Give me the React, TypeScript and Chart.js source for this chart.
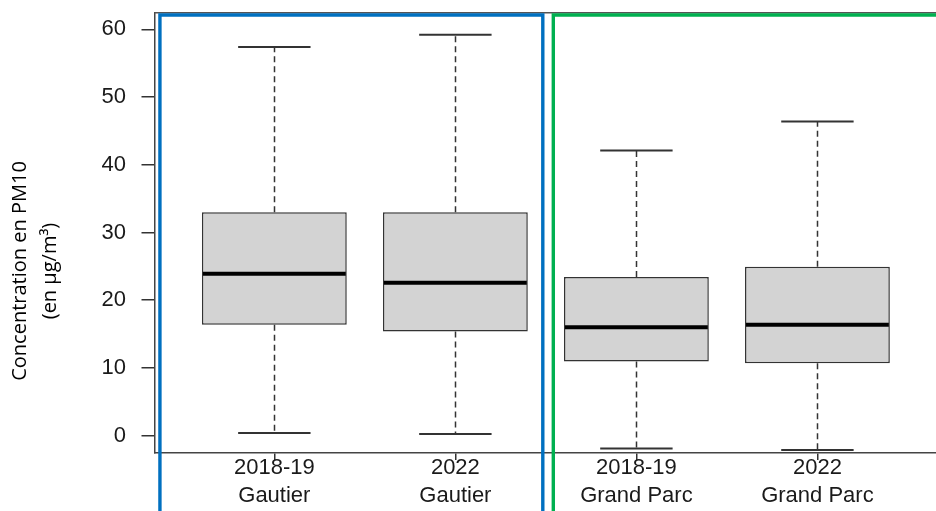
import React, { useEffect, useRef } from "react";
import { Chart, registerables } from "chart.js";

Chart.register(...registerables);

// ---- Data ----
const periods = ["2018-19", "2022", "2018-19", "2022"];
const sites = ["Gautier", "Gautier", "Grand Parc", "Grand Parc"];
const whiskerLow = [0.4, 0.25, -1.9, -2.1];
const q1 = [16.4, 15.4, 10.95, 10.7];
const median = [23.9, 22.6, 16.0, 16.4];
const q3 = [33.0, 33.0, 23.45, 24.95];
const whiskerHigh = [57.4, 59.2, 42.1, 46.4];
const yTicks = [0, 10, 20, 30, 40, 50, 60];
const yTitle = ["Concentration en PM10", "(en µg/m³)"];

// group frames (x in category units)
const groupFrames = [
  { from: 0.368, to: 2.483, color: "#0070C0" },
  { from: 2.541, to: 4.9, color: "#00B050" },
];

const tickFont = { family: "'Liberation Sans', Arial, sans-serif", size: 22 };

const extrasPlugin = {
  id: "boxExtras",
  beforeDatasetsDraw(chart: any) {
    const { ctx, scales } = chart;
    const x = scales.x;
    const y = scales.y;
    ctx.save();
    ctx.strokeStyle = "#333";
    ctx.lineWidth = 1.5;
    ctx.setLineDash([6, 4]);
    for (let i = 0; i < periods.length; i++) {
      const px = Math.round(x.getPixelForValue(i + 1)) + 0.5;
      ctx.beginPath();
      ctx.moveTo(px, y.getPixelForValue(q3[i]));
      ctx.lineTo(px, y.getPixelForValue(whiskerHigh[i]));
      ctx.moveTo(px, y.getPixelForValue(q1[i]));
      ctx.lineTo(px, y.getPixelForValue(whiskerLow[i]));
      ctx.stroke();
    }
    ctx.setLineDash([]);
    ctx.lineWidth = 2;
    for (let i = 0; i < periods.length; i++) {
      const l = x.getPixelForValue(i + 1 - 0.2);
      const r = x.getPixelForValue(i + 1 + 0.2);
      for (const v of [whiskerHigh[i], whiskerLow[i]]) {
        const py = y.getPixelForValue(v);
        ctx.beginPath();
        ctx.moveTo(l, py);
        ctx.lineTo(r, py);
        ctx.stroke();
      }
    }
    ctx.restore();
  },
  afterDatasetsDraw(chart: any) {
    const { ctx, scales } = chart;
    const x = scales.x;
    const y = scales.y;
    ctx.save();
    ctx.strokeStyle = "#000";
    ctx.lineWidth = 4;
    for (let i = 0; i < periods.length; i++) {
      const py = y.getPixelForValue(median[i]);
      ctx.beginPath();
      ctx.moveTo(x.getPixelForValue(i + 1 - 0.4) + 1, py);
      ctx.lineTo(x.getPixelForValue(i + 1 + 0.4) - 1, py);
      ctx.stroke();
    }
    ctx.restore();
  },
  afterDraw(chart: any) {
    const { ctx, chartArea, scales } = chart;
    const x = scales.x;
    ctx.save();
    // top frame line
    ctx.strokeStyle = "#555";
    ctx.lineWidth = 1.5;
    ctx.beginPath();
    ctx.moveTo(chartArea.left, chartArea.top);
    ctx.lineTo(chart.width + 2, chartArea.top);
    ctx.stroke();
    // group frames
    const topPx = chartArea.top + 2.3;
    ctx.lineWidth = 3.4;
    for (const g of groupFrames) {
      const l = x.getPixelForValue(g.from);
      const r = x.getPixelForValue(g.to);
      ctx.strokeStyle = g.color;
      ctx.beginPath();
      ctx.moveTo(l, chart.height + 5);
      ctx.lineTo(l, topPx);
      ctx.lineTo(r, topPx);
      ctx.lineTo(r, chart.height + 5);
      ctx.stroke();
    }
    // y title
    ctx.fillStyle = "#000";
    ctx.font = "20px 'Open Sans', 'Noto Sans', sans-serif";
    ctx.textAlign = "center";
    ctx.textBaseline = "middle";
    ctx.translate(20.7, 271);
    ctx.rotate(-Math.PI / 2);
    yTitle.forEach((t, i) => ctx.fillText(t, 0, i * 29.3));
    ctx.restore();
  },
};

export default function App() {
  const ref = useRef<HTMLCanvasElement | null>(null);
  useEffect(() => {
    if (!ref.current) return;
    const chart = new Chart(ref.current, {
      type: "bar",
      data: {
        datasets: [
          {
            data: periods.map((_, i) => ({ x: i + 1, y: [q1[i], q3[i]] })) as any,
            backgroundColor: "#d3d3d3",
            borderColor: "#333",
            borderWidth: 1.5,
            borderSkipped: false,
            barPercentage: 0.8,
            categoryPercentage: 1,
          },
        ],
      },
      options: {
        animation: false,
        responsive: false,
        maintainAspectRatio: false,
        devicePixelRatio: 1,
        layout: { padding: { top: 12.7, left: 0, right: 0, bottom: 0 } },
        plugins: { legend: { display: false }, tooltip: { enabled: false } },
        scales: {
          x: {
            type: "linear",
            min: 0.338,
            max: 4.655,
            offset: false,
            afterBuildTicks: (s: any) => {
              s.ticks = periods.map((_, i) => ({ value: i + 1 }));
            },
            afterFit: (s: any) => {
              s.height = 58;
              s.paddingLeft = 0;
              s.paddingRight = 0;
            },
            grid: {
              display: true,
              offset: false,
              drawOnChartArea: false,
              drawTicks: true,
              tickLength: 7,
              color: "#333",
              lineWidth: 1.5,
            },
            border: { display: true, color: "#444", width: 1.5 },
            ticks: {
              autoSkip: false,
              maxRotation: 0,
              padding: -6.5,
              color: "#1a1a1a",
              font: { ...tickFont, lineHeight: 1.29 },
              callback: (v: any) => {
                const i = Math.round(Number(v)) - 1;
                return [periods[i], sites[i]];
              },
            },
          },
          y: {
            type: "linear",
            min: -2.55,
            max: 62.45,
            afterBuildTicks: (s: any) => {
              s.ticks = yTicks.map((v) => ({ value: v }));
            },
            afterFit: (s: any) => {
              s.width = 154.5;
              s.paddingTop = 0;
              s.paddingBottom = 0;
            },
            grid: {
              display: true,
              drawOnChartArea: false,
              drawTicks: true,
              tickLength: 13,
              color: "#333",
              lineWidth: 1.5,
            },
            border: { display: true, color: "#444", width: 1.5 },
            ticks: {
              padding: 15.5,
              color: "#1a1a1a",
              font: tickFont,
              callback: (v: any) => String(v),
            },
          },
        },
      },
      plugins: [extrasPlugin],
    });
    return () => chart.destroy();
  }, []);

  return (
    <div style={{ position: "fixed", left: 0, top: 0, width: 936, height: 511, background: "#fff" }}>
      <canvas ref={ref} width={936} height={511} style={{ width: 936, height: 511, display: "block" }} />
    </div>
  );
}
